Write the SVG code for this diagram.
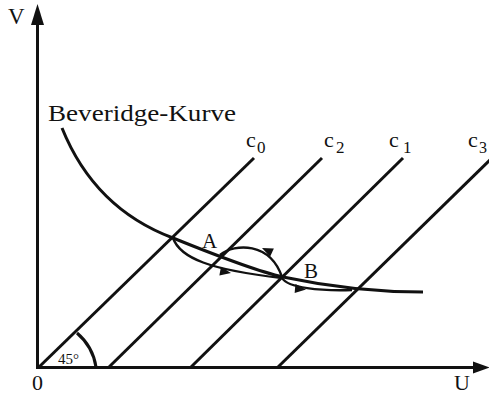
<svg xmlns="http://www.w3.org/2000/svg" width="489" height="395" viewBox="0 0 489 395">
<defs>
<style>
.ln{fill:none;stroke:#111;stroke-width:3;stroke-linecap:butt}
.thin{fill:none;stroke:#111;stroke-width:2.4}
.t{font-family:"Liberation Serif","Times New Roman",serif;fill:#111}
.ah{fill:#111}
</style>
<path id="ah" d="M0,0 L-11,-4.5 L-11,4.5 Z"/>
</defs>
<rect width="489" height="395" fill="#fff"/>
<g id="axes">
<line class="ln" x1="37.5" y1="369" x2="37.5" y2="20"/>
<polygon class="ah" points="37.5,4 31,25 44,25"/>
<line class="ln" x1="36" y1="367.5" x2="476" y2="367.5"/>
<polygon class="ah" points="490,367.5 473,361.5 473,373.5"/>
<text class="t" x="8" y="24" font-size="23">V</text>
<text class="t" x="32" y="390" font-size="22">0</text>
<text class="t" x="454" y="390" font-size="22">U</text>
</g>
<g id="angle">
<path class="ln" d="M77,333 A56,56 0 0 1 96,367"/>
<text class="t" x="58" y="364" font-size="15">45°</text>
</g>
<g id="c0">
<line class="ln" x1="38" y1="368" x2="254" y2="158"/>
<text class="t" x="246" y="147" font-size="22">c</text>
<text class="t" x="257" y="153" font-size="17">0</text>
</g>
<g id="c2">
<line class="ln" x1="108" y1="368" x2="322" y2="158"/>
<text class="t" x="324" y="147" font-size="22">c</text>
<text class="t" x="336" y="153" font-size="17">2</text>
</g>
<g id="c1">
<line class="ln" x1="190" y1="368" x2="403" y2="158"/>
<text class="t" x="389" y="147" font-size="22">c</text>
<text class="t" x="403" y="153" font-size="17">1</text>
</g>
<g id="c3">
<line class="ln" x1="277" y1="368" x2="492" y2="158"/>
<text class="t" x="468" y="147" font-size="22">c</text>
<text class="t" x="479" y="153" font-size="16">3</text>
</g>
<g id="beveridge">
<path class="ln" d="M62,128 C85,185 125,220 173,238 C215,255 260,272 283,277 C330,287 380,292 423,292"/>
<text class="t" x="48" y="121" font-size="23" textLength="188" lengthAdjust="spacingAndGlyphs">Beveridge-Kurve</text>
</g>
<g id="A">
<text class="t" x="202" y="248" font-size="21">A</text>
</g>
<g id="B">
<text class="t" x="304" y="278" font-size="21">B</text>
</g>
<g id="connectors">
<path class="thin" d="M173,238 C180,258 210,270 282,278"/>
<use href="#ah" class="ah" transform="translate(231,273) rotate(10)"/>
<path class="thin" d="M220,255 C235,243 270,242 282,277"/>
<use href="#ah" class="ah" transform="translate(262,248) rotate(205)"/>
<path class="thin" d="M282,278 C288,288 320,291 352,290"/>
<use href="#ah" class="ah" transform="translate(306,289.5) rotate(5)"/>
</g>
</svg>
